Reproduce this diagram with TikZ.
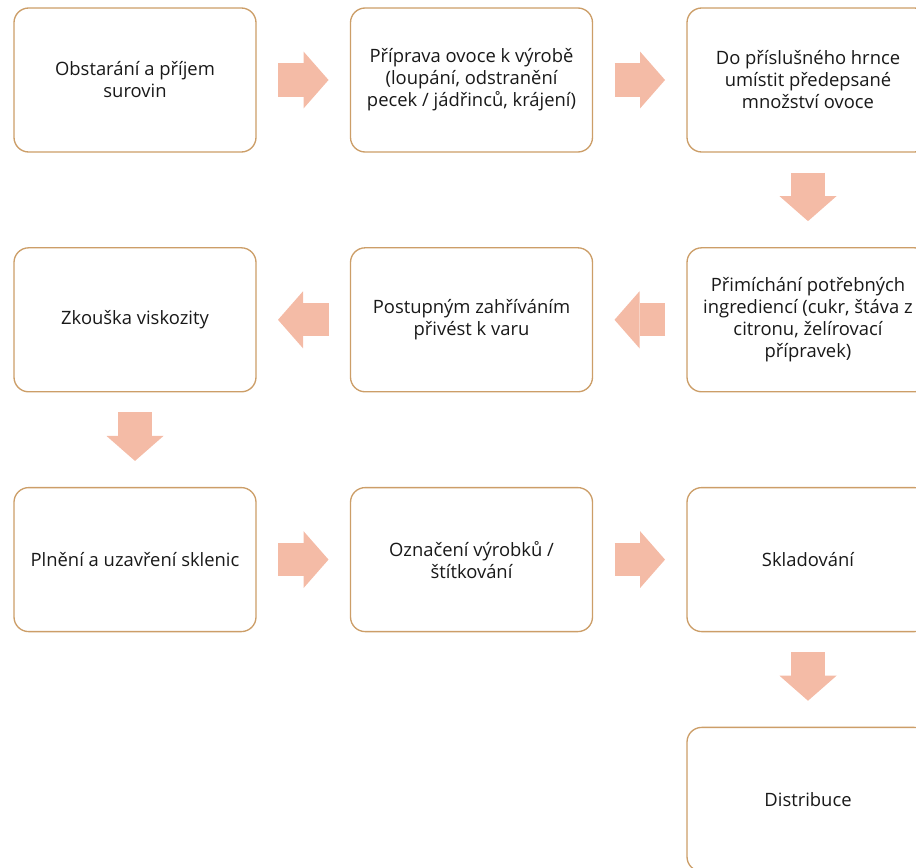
\documentclass[tikz,border=0pt]{standalone}
\usepackage{fontspec}
\setmainfont{Open Sans}
\usetikzlibrary{math, calc, arrows.meta}

\definecolor{boxline}{RGB}{204,158,104}
\definecolor{flowfill}{RGB}{244,187,166}

\begin{document}
\begin{tikzpicture}[x=0.75pt, y=-0.75pt,
    stepbox/.style={draw=boxline, line width=1pt, rounded corners=11pt, fill=white,
        minimum width=181.5pt, minimum height=108pt, align=center, inner sep=2pt,
        font=\fontsize{13.8}{16.5}\selectfont, text=black!90},
    flow/.style={draw=flowfill, line width=25pt,
        -{Triangle[length=18.75pt, width=42.75pt, line width=0pt]}},
    hflow/.style={flow, shorten <=16pt, shorten >=16pt},
    vflow/.style={flow, shorten <=15pt, shorten >=19.5pt}]
    \tikzmath{
        \colsep=336.5;
        \rowsep=239.8;
        \xo=135;
        \yo=80;
    }

    \clip (0, 0) rectangle (916, 867);

    % first row
    \node [stepbox] (obstarani) at (\xo, \yo) {Obstarání a příjem\\surovin};
    \node [stepbox] (priprava) at (\xo+\colsep, \yo) {Příprava ovoce k výrobě\\(loupání, odstranění\\pecek / jádřinců, krájení)};
    \node [stepbox] (hrnec) at (\xo+2*\colsep, \yo) {Do příslušného hrnce\\umístit předepsané\\množství ovoce};

    % second row
    \node [stepbox] (primichani) at (\xo+2*\colsep, \yo+\rowsep) {Přimíchání potřebných\\ingrediencí (cukr, štáva z\\citronu, želírovací\\přípravek)};
    \node [stepbox] (var) at (\xo+\colsep, \yo+\rowsep) {Postupným zahříváním\\přivést k varu};
    \node [stepbox] (viskozita) at (\xo, \yo+\rowsep) {Zkouška viskozity};

    % third row
    \node [stepbox] (plneni) at (\xo, \yo+2*\rowsep) {Plnění a uzavření sklenic};
    \node [stepbox] (oznaceni) at (\xo+\colsep, \yo+2*\rowsep) {Označení výrobků /\\štítkování};
    \node [stepbox] (skladovani) at (\xo+2*\colsep, \yo+2*\rowsep) {Skladování};

    % last row
    \node [stepbox] (distribuce) at (\xo+2*\colsep, \yo+3*\rowsep) {Distribuce};

    % arrows
    \draw [hflow] (obstarani.east) -- (priprava.west);
    \draw [hflow] (priprava.east) -- (hrnec.west);
    \draw [vflow] (hrnec.south) -- (primichani.north);
    \draw [hflow] (primichani.west) -- (var.east);
    \draw [hflow] (var.west) -- (viskozita.east);
    \draw [vflow] (viskozita.south) -- (plneni.north);
    \draw [hflow] (plneni.east) -- (oznaceni.west);
    \draw [hflow] (oznaceni.east) -- (skladovani.west);
    \draw [vflow] (skladovani.south) -- (distribuce.north);
\end{tikzpicture}
\end{document}
